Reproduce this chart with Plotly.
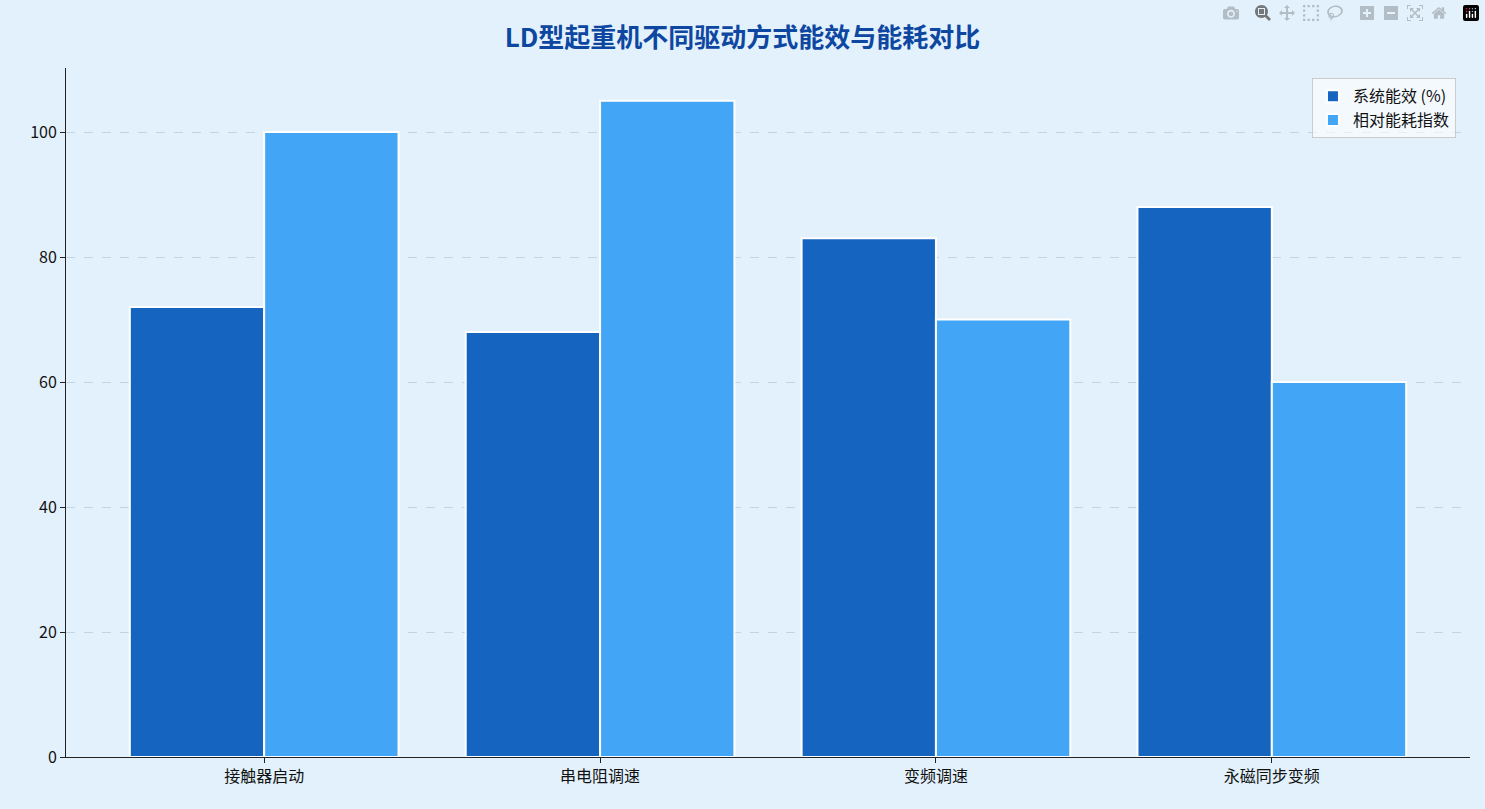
import plotly.graph_objects as go

categories = ["接触器启动", "串电阻调速", "变频调速", "永磁同步变频"]
efficiency = [72, 68, 83, 88]
energy_index = [100, 105, 70, 60]
y_ticks = [0, 20, 40, 60, 80, 100]

bg = "#E3F1FC"
fig = go.Figure()
fig.add_bar(x=categories, y=efficiency, name="系统能效 (%)", marker=dict(color="#1565C0", line=dict(color="white", width=2)))
fig.add_bar(x=categories, y=energy_index, name="相对能耗指数", marker=dict(color="#42A5F5", line=dict(color="white", width=2)))
fig.update_layout(
    width=1485, height=809, barmode="group", bargap=0.2, bargroupgap=0,
    paper_bgcolor=bg, plot_bgcolor=bg,
    font=dict(family="Noto Sans CJK SC", size=16, color="#111"),
    title=dict(text="<b>LD型起重机不同驱动方式能效与能耗对比</b>", x=0.5, y=0.965, xanchor="center",
               font=dict(size=26, color="#0D47A1")),
    margin=dict(l=66, r=15, t=68, b=52),
    legend=dict(x=0.99, y=0.985, xanchor="right", yanchor="top", bgcolor="rgba(255,255,255,0.6)",
                bordercolor="#ccc", borderwidth=1, font=dict(size=16)),
    xaxis=dict(range=[-0.59, 3.59], showline=True, linecolor="#222", ticks="outside", ticklen=5, tickcolor="#222"),
    yaxis=dict(range=[0, 110.25], tickvals=y_ticks, showline=True, linecolor="#222", ticks="outside",
               ticklen=5, tickcolor="#222", showgrid=True, gridcolor="#C5D3DE", griddash="dash", zeroline=False),
)
fig.write_html("out.html", post_script="document.body.style.margin='0';document.body.style.background='#E3F1FC';")
